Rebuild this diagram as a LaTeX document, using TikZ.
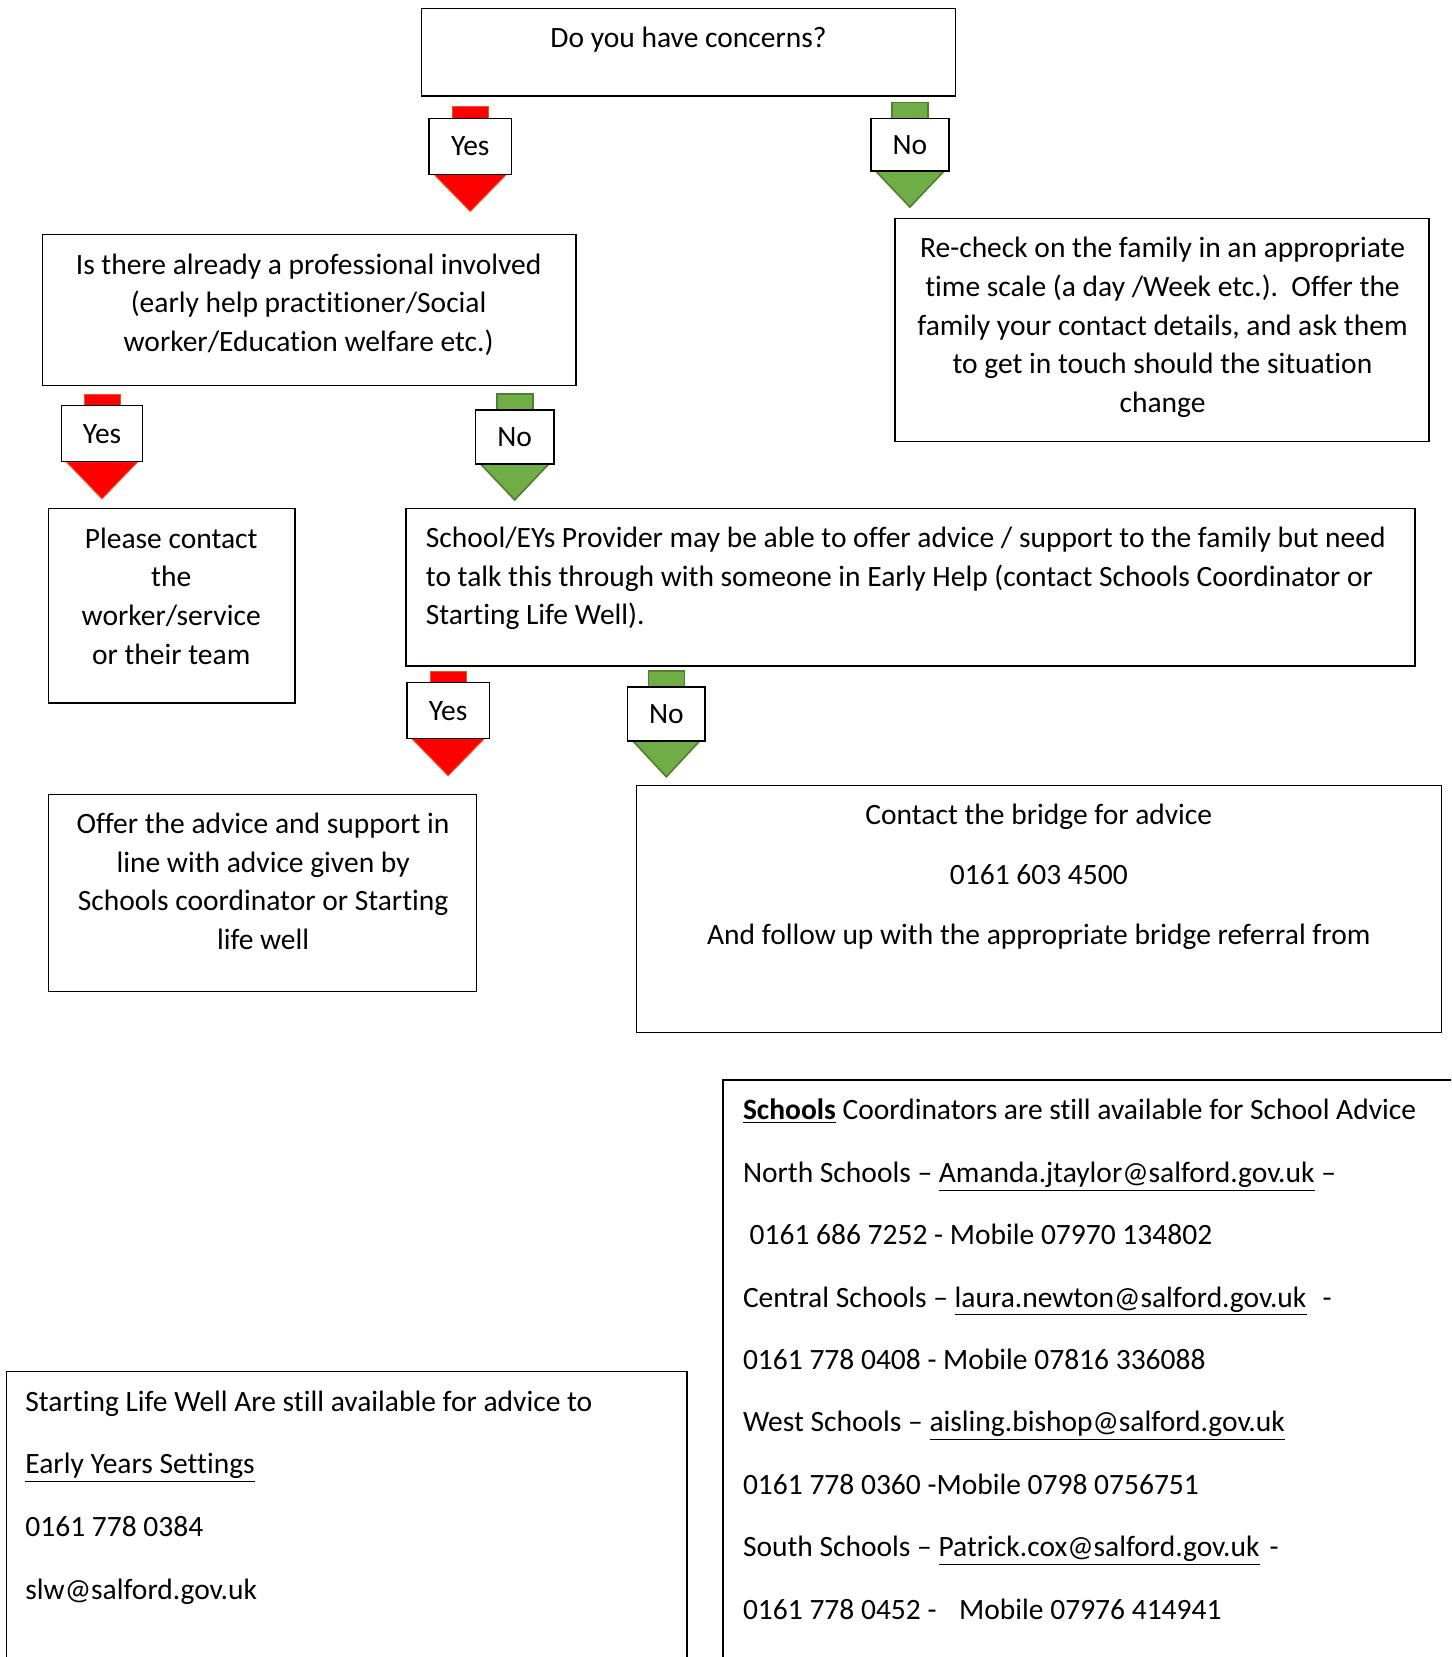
\documentclass[tikz,border=0pt]{standalone}
\usepackage{fontspec}
\setmainfont{Carlito}[Ligatures={TeX,NoCommon}]
\definecolor{arrred}{HTML}{FF0000}
\definecolor{arrredline}{HTML}{F4511E}
\definecolor{arrgreen}{HTML}{70AD47}
\definecolor{arrgreenline}{HTML}{507E32}
\tikzset{
  every node/.style={font=\fontsize{14.75}{19.3}\selectfont},
  boxshape/.style={draw=black, line width=0.7pt, fill=white, rectangle, inner sep=0pt, outer sep=0pt},
  txt/.style={inner sep=0pt, outer sep=0pt},
  lab/.style={draw=black, line width=0.7pt, fill=white, rectangle, inner sep=0pt},
  redarrow/.style={fill=arrred, draw=arrredline, line width=0.5pt},
  greenarrow/.style={fill=arrgreen, draw=arrgreenline, line width=0.8pt},
}
% #1 name, #2 style, #3 label, #4 left, #5 right, #6 top, #7 bottom, #8 stub top, #9 tip y
\newcommand\downcall[9]{%
  \path[#2] ({(#4+#5)/2-18},#8) rectangle ({(#4+#5)/2+18},{#6+4});
  \path[#2] ({#4+5},#7) -- ({#5-5},#7) -- ({(#4+#5)/2},#9) -- cycle;
  \node[lab, minimum width={(#5-#4)*0.5pt}, minimum height={(#7-#6)*0.5pt}] (#1) at ({(#4+#5)/2},{(#6+#7)/2}) {#3};
}
% #1 name, #2 x1, #3 y1, #4 x2, #5 y2
\newcommand\boxnode[5]{%
  \node[boxshape, anchor=north west, minimum width={(#4-#2)*0.5pt}, minimum height={(#5-#3)*0.5pt}] (#1) at (#2,#3) {};
}
\begin{document}
\begin{tikzpicture}[x=0.5pt, y=-0.5pt]
\useasboundingbox (0,0) rectangle (1451,1657);
\clip (0,0) rectangle (1451,1657);
\fill[white] (0,0) rectangle (1451,1657);

% boxes
\boxnode{q}{421.7}{8.5}{955.4}{96.2}
\boxnode{is}{42.3}{234.6}{576}{385.7}
\boxnode{rc}{895}{218.8}{1428.8}{441.7}
\boxnode{pc}{48.6}{508.3}{294.8}{702.8}
\boxnode{sp}{405.8}{508.3}{1415}{665.8}
\boxnode{of}{48.6}{794.7}{476.6}{991.3}
\boxnode{cb}{636.2}{785.2}{1441.5}{1032.5}
\boxnode{sch}{722.9}{1080}{1480}{1700}
\boxnode{slw}{6.3}{1371.7}{687}{1700}

% texts (anchor = baseline of the last line)
\node[txt, anchor=base] (qt) at (688.5,48) {Do you have concerns?};
\node[txt, anchor=base, align=center] (ist) at (308.6,351.5) {Is there already a professional involved\\(early help practitioner/Social\\worker/Education welfare etc.)};
\node[txt, anchor=base, align=center] (rct) at (1162.5,412.3) {Re-check on the family in an appropriate\\time scale (a day /Week etc.).\ \ Offer the\\family your contact details, and ask them\\to get in touch should the situation\\change};
\node[txt, anchor=base, align=center] (pct) at (171.2,664) {Please contact\\the\\worker/service\\or their team};
\node[txt, anchor=base west, align=left] (spt) at (425.9,624.6) {School/EYs Provider may be able to offer advice / support to the family but need\\to talk this through with someone in Early Help (contact Schools Coordinator or\\Starting Life Well).};
\node[txt, anchor=base, align=center] (oft) at (263.1,949.2) {Offer the advice and support in\\line with advice given by\\Schools coordinator or Starting\\life well};
\node[txt, anchor=base, align=center, font=\fontsize{14.75}{30}\selectfont] (cbt) at (1038.8,944.6) {Contact the bridge for advice\\0161 603 4500\\And follow up with the appropriate bridge referral from};
\node[txt, anchor=base west, align=left, font=\fontsize{14.75}{31.2}\selectfont] (scht) at (743,1619) {\underline{\textbf{Schools}} Coordinators are still available for School Advice\\
North Schools – \underline{Amanda.jtaylor@salford.gov.uk} –\\
\ 0161 686 7252 - Mobile 07970 134802\\
Central Schools – \underline{laura.newton@salford.gov.uk}\hspace{8pt}-\\
0161 778 0408 - Mobile 07816 336088\\
West Schools – \underline{aisling.bishop@salford.gov.uk}\\
0161 778 0360 -Mobile 0798 0756751\\
South Schools – \underline{Patrick.cox@salford.gov.uk}\hspace{5pt}-\\
0161 778 0452 -\hspace{8pt} Mobile 07976 414941};
\node[txt, anchor=base west, align=left, font=\fontsize{14.75}{31.3}\selectfont] (slwt) at (25.4,1599) {Starting Life Well Are still available for advice to\\
\underline{Early Years Settings}\\
0161 778 0384\\
slw@salford.gov.uk};

% arrows
\downcall{y1}{redarrow}{Yes}{429}{511.5}{118.4}{174.4}{106.7}{211.4}
\downcall{n1}{greenarrow}{No}{870.8}{949}{118.4}{171.2}{102.5}{207.1}
\downcall{y2}{redarrow}{Yes}{61.3}{142.7}{405.8}{461.8}{394.2}{498.8}
\downcall{n2}{greenarrow}{No}{475.6}{553.8}{410}{464}{394.2}{500}
\downcall{y3}{redarrow}{Yes}{406.9}{489.3}{682.7}{738.7}{671}{775.7}
\downcall{n3}{greenarrow}{No}{627.7}{704.9}{687}{740.8}{671}{776.8}
\end{tikzpicture}
\end{document}
